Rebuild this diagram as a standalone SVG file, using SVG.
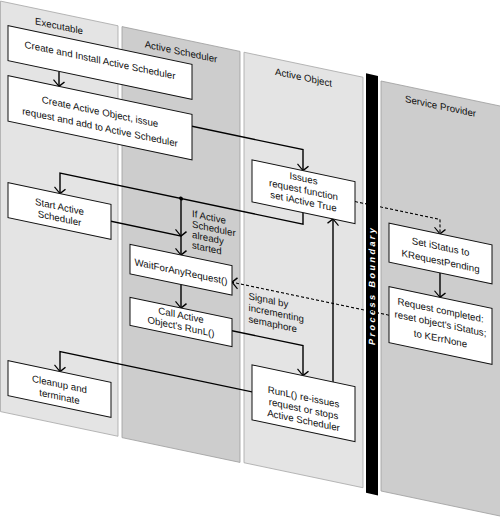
<svg xmlns="http://www.w3.org/2000/svg" width="500" height="517" viewBox="0 0 500 517">
<style>
.lane-l{fill:#e4e4e4;stroke:#a9a9a9;stroke-width:0.8}
.lane-d{fill:#cdcdcd;stroke:#a0a0a0;stroke-width:0.8}
.box{fill:#fff;stroke:#111;stroke-width:1}
text{font-family:"Liberation Sans",Arial,sans-serif;font-size:9.7px;fill:#111}
.c{text-anchor:middle}
.conn{fill:none;stroke:#000;stroke-width:1.4}
.dash{fill:none;stroke:#000;stroke-width:1.1;stroke-dasharray:3 2}
.pb{font-weight:bold;font-size:9px;fill:#fff;letter-spacing:2.5px;text-anchor:middle}
</style>
<defs>
<marker id="ah" markerUnits="userSpaceOnUse" markerWidth="14" markerHeight="14" viewBox="-7 -7 14 14" refX="0" refY="0" orient="auto"><path d="M-5.5,-5.5 L0,0 L-5.5,5.5" fill="none" stroke="#000" stroke-width="1.3"/></marker>
</defs>
<g transform="matrix(1,0.21,0,1,0,0)">
<g id="lanes">
<rect class="lane-l" x="0.5" y="1" width="117.5" height="410.5"/>
<rect class="lane-d" x="122" y="1" width="118" height="411"/>
<rect class="lane-l" x="244" y="1" width="119" height="410.5"/>
<rect class="lane-d" x="381" y="1" width="120" height="410"/>
<text class="c" x="59" y="17">Executable</text>
<text class="c" x="181" y="17">Active Scheduler</text>
<text class="c" x="303.5" y="17">Active Object</text>
<text class="c" x="440.5" y="17">Service Provider</text>
</g>
<g id="process-boundary">
<rect x="366" y="-3.5" width="12" height="419.5" fill="#000"/>
<text class="pb" transform="translate(372,207) rotate(-90)" x="0" y="3.3">Process Boundary</text>
</g>
<g id="connectors">
<path class="conn" d="M59,59 V74" marker-end="url(#ah)"/>
<path class="conn" d="M192,86 H303 V107" marker-end="url(#ah)"/>
<path class="conn" d="M303,149 V160.5 H60 V181" marker-end="url(#ah)"/>
<path class="conn" d="M181,160.5 V198" marker-end="url(#ah)"/>
<path class="conn" d="M111,198 H181 V217" marker-end="url(#ah)"/>
<circle cx="181" cy="160.5" r="2" fill="#000"/>
<path class="conn" d="M181,246.5 V270" marker-end="url(#ah)"/>
<path class="conn" d="M232,282 H303 V312" marker-end="url(#ah)"/>
<path class="conn" d="M333,312 V149" marker-end="url(#ah)"/>
<path class="conn" d="M252,339 H60 V359" marker-end="url(#ah)"/>
<path class="dash" d="M355,127 H440 V141.5" marker-end="url(#ah)"/>
<path class="conn" d="M440,180.5 V205" marker-end="url(#ah)"/>
<path class="dash" d="M389,233.5 H232" marker-end="url(#ah)"/>
<g id="label-if-active">
<text x="192" y="176.5">If Active</text>
<text x="192" y="187">Scheduler</text>
<text x="192" y="197.5">already</text>
<text x="192" y="208">started</text>
</g>
<g id="label-signal">
<text x="248.5" y="247">Signal by</text>
<text x="248.5" y="258.5">incrementing</text>
<text x="248.5" y="270">semaphore</text>
</g>
</g>
<g id="create-install">
<rect class="box" x="8" y="24" width="184" height="35"/>
<text class="c" x="100" y="42.5">Create and Install Active Scheduler</text>
</g>
<g id="create-object">
<rect class="box" x="8" y="74" width="184" height="45.5"/>
<text class="c" x="100" y="94">Create Active Object, issue</text>
<text class="c" x="100" y="109.5">request and add to Active Scheduler</text>
</g>
<g id="start-scheduler">
<rect class="box" x="8" y="181" width="103" height="35"/>
<text class="c" x="59.5" y="197.5">Start Active</text>
<text class="c" x="59.5" y="209">Scheduler</text>
</g>
<g id="wait-for-any">
<rect class="box" x="130" y="217" width="102" height="29.5"/>
<text class="c" x="181" y="237">WaitForAnyRequest()</text>
</g>
<g id="call-runl">
<rect class="box" x="130" y="270" width="102" height="28"/>
<text class="c" x="181" y="280.5">Call Active</text>
<text class="c" x="181" y="292">Object's RunL()</text>
</g>
<g id="issues-request">
<rect class="box" x="252" y="107" width="103" height="42"/>
<text class="c" x="303.5" y="118">Issues</text>
<text class="c" x="303.5" y="129.5">request function</text>
<text class="c" x="303.5" y="141">set iActive True</text>
</g>
<g id="runl-reissues">
<rect class="box" x="252" y="312" width="103" height="55"/>
<text class="c" x="303.5" y="336.5">RunL() re-issues</text>
<text class="c" x="303.5" y="348.5">request or stops</text>
<text class="c" x="303.5" y="360">Active Scheduler</text>
</g>
<g id="cleanup">
<rect class="box" x="8" y="359" width="103" height="35"/>
<text class="c" x="59.5" y="375">Cleanup and</text>
<text class="c" x="59.5" y="387.5">terminate</text>
</g>
<g id="set-istatus">
<rect class="box" x="389" y="141.5" width="103" height="39"/>
<text class="c" x="440.5" y="157.5">Set iStatus to</text>
<text class="c" x="440.5" y="172">KRequestPending</text>
</g>
<g id="request-completed">
<rect class="box" x="389" y="205" width="103" height="56"/>
<text class="c" x="440.5" y="221">Request completed:</text>
<text class="c" x="440.5" y="234.5">reset object's iStatus;</text>
<text class="c" x="440.5" y="249.5">to KErrNone</text>
</g>
</g>
</svg>
